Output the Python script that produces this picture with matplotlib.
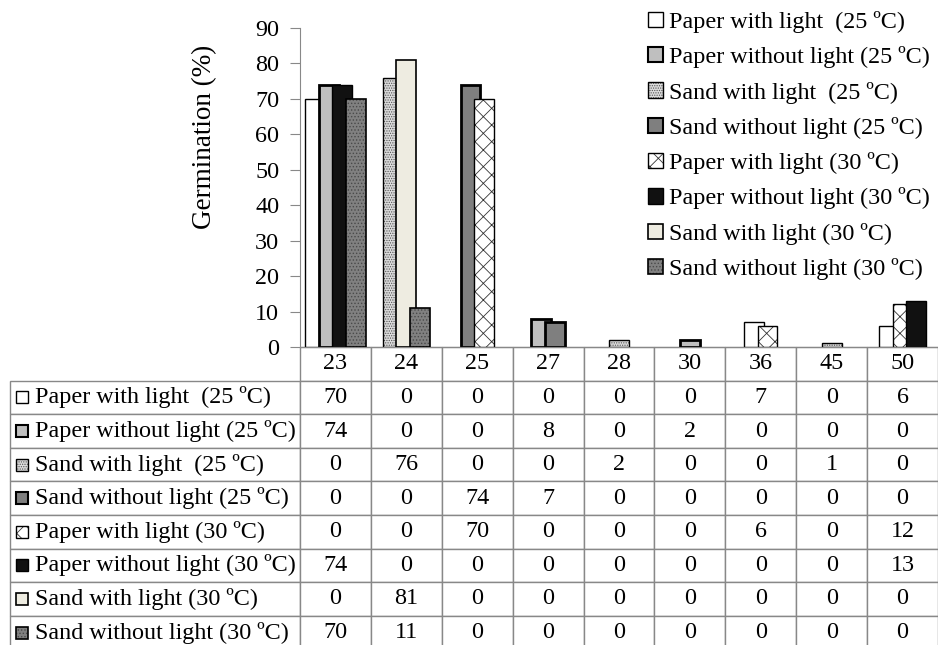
import matplotlib
matplotlib.use("Agg")
import matplotlib.pyplot as plt
from matplotlib.patches import Patch, Rectangle
from matplotlib.legend_handler import HandlerTuple

plt.rcParams['font.family'] = ['Liberation Serif', 'DejaVu Serif']
plt.rcParams['hatch.linewidth'] = 0.6

categories = ['23', '24', '25', '27', '28', '30', '36', '45', '50']
series_names = ['Paper with light  (25 ºC)', 'Paper without light (25 ºC)',
                'Sand with light  (25 ºC)', 'Sand without light (25 ºC)',
                'Paper with light (30 ºC)', 'Paper without light (30 ºC)',
                'Sand with light (30 ºC)', 'Sand without light (30 ºC)']
paper_light_25 = [70, 0, 0, 0, 0, 0, 7, 0, 6]
paper_dark_25 = [74, 0, 0, 8, 0, 2, 0, 0, 0]
sand_light_25 = [0, 76, 0, 0, 2, 0, 0, 1, 0]
sand_dark_25 = [0, 0, 74, 7, 0, 0, 0, 0, 0]
paper_light_30 = [0, 0, 70, 0, 0, 0, 6, 0, 12]
paper_dark_30 = [74, 0, 0, 0, 0, 0, 0, 0, 13]
sand_light_30 = [0, 81, 0, 0, 0, 0, 0, 0, 0]
sand_dark_30 = [70, 11, 0, 0, 0, 0, 0, 0, 0]
series = [paper_light_25, paper_dark_25, sand_light_25, sand_dark_25,
          paper_light_30, paper_dark_30, sand_light_30, sand_dark_30]
yticks = [0, 10, 20, 30, 40, 50, 60, 70, 80, 90]

styles = [
    dict(face='white', hatch=None, hc='black', lw=1.0),
    dict(face='#bfbfbf', hatch=None, hc='black', lw=2.0),
    dict(face='#dcdcdc', hatch='.......', hc='#555555', lw=1.0),
    dict(face='#7f7f7f', hatch=None, hc='black', lw=2.0),
    dict(face='white', hatch='xx', hc='#333333', lw=1.0),
    dict(face='#111111', hatch=None, hc='black', lw=1.0),
    dict(face='#eeece1', hatch=None, hc='black', lw=1.2),
    dict(face='#808080', hatch='.....', hc='#4a4a4a', lw=1.2),
]

W, H = 938, 645
fig = plt.figure(figsize=(W / 100, H / 100), dpi=100)
ax = fig.add_axes([300 / W, 1 - 347 / H, 638 / W, (347 - 28) / H])

FS = 17.4
bw = 0.28
step = 0.19
for j, cat in enumerate(categories):
    nz = [s for s in range(len(series)) if series[s][j] > 0]
    n = len(nz)
    for k, s in enumerate(nz):
        x = j + (k - (n - 1) / 2) * step
        st = styles[s]
        v = series[s][j]
        ax.bar(x, v, bw, color=st['face'], edgecolor=st['hc'], hatch=st['hatch'],
               linewidth=0, zorder=2 + s * 0.1)
        ax.bar(x, v, bw, fill=False, edgecolor='black', linewidth=st['lw'],
               zorder=2.05 + s * 0.1)

ax.set_xlim(-0.5, len(categories) - 0.5)
ax.set_ylim(0, 90)
ax.set_yticks(yticks)
ax.set_xticks([])
for sp in ['top', 'right']:
    ax.spines[sp].set_visible(False)
ax.spines['left'].set_color('#888888')
ax.spines['bottom'].set_color('#888888')
ax.tick_params(axis='y', direction='out', length=7, color='#888888', pad=8, labelsize=FS)

fig.text(205 / W, 1 - 137 / H, 'Germination (%)', rotation=90, ha='center', va='center', fontsize=19.5)

# legend
handles = []
for st in styles:
    handles.append((Patch(facecolor=st['face'], edgecolor=st['hc'], hatch=st['hatch'], linewidth=0),
                    Patch(fill=False, edgecolor='black', linewidth=min(st['lw'], 1.5))))
leg = ax.legend(handles, series_names, handler_map={tuple: HandlerTuple(ndivide=1, pad=0)},
                loc='upper left', bbox_to_anchor=(648 / W, 1 - 11 / H), bbox_transform=fig.transFigure,
                frameon=False, fontsize=FS, borderpad=0, borderaxespad=0, handlelength=0.6,
                handleheight=0.6, handletextpad=0.25, labelspacing=0.55)

# data table
cell_text = []
for s in range(len(series)):
    cell_text.append([series_names[s]] + [str(v) for v in series[s]])
col_labels = [''] + categories
ax_h_px = 347 - 28
tbl_h_px = 9 * 33.6
tbl = ax.table(cellText=cell_text, colLabels=col_labels,
               colWidths=[290 / 638] + [1 / 9] * 9,
               cellLoc='center',
               bbox=[-290 / 638, -tbl_h_px / ax_h_px, 928 / 638, tbl_h_px / ax_h_px])
tbl.auto_set_font_size(False)
tbl.set_fontsize(FS)
for (r, c), cell in tbl.get_celld().items():
    cell.set_edgecolor('#888888')
    cell.set_linewidth(1.0)
    if r == 0 and c == 0:
        cell.visible_edges = ''
    if c == 0 and r > 0:
        cell.get_text().set_ha('left')
        cell.PAD = 0.085
        cell._loc = 'left'

# markers in the table row labels
rowh = 33.6
for s, st in enumerate(styles):
    cy = 347 + (s + 1.5) * rowh
    sz = 12
    x0, y0 = 16, cy - sz / 2
    fig.patches.append(Rectangle((x0 / W, 1 - (y0 + sz) / H), sz / W, sz / H,
                                 transform=fig.transFigure, facecolor=st['face'],
                                 edgecolor=st['hc'], hatch=st['hatch'], linewidth=0))
    fig.patches.append(Rectangle((x0 / W, 1 - (y0 + sz) / H), sz / W, sz / H,
                                 transform=fig.transFigure, fill=False,
                                 edgecolor='black', linewidth=min(st['lw'], 1.5)))

fig.savefig('out.png', dpi=100)
